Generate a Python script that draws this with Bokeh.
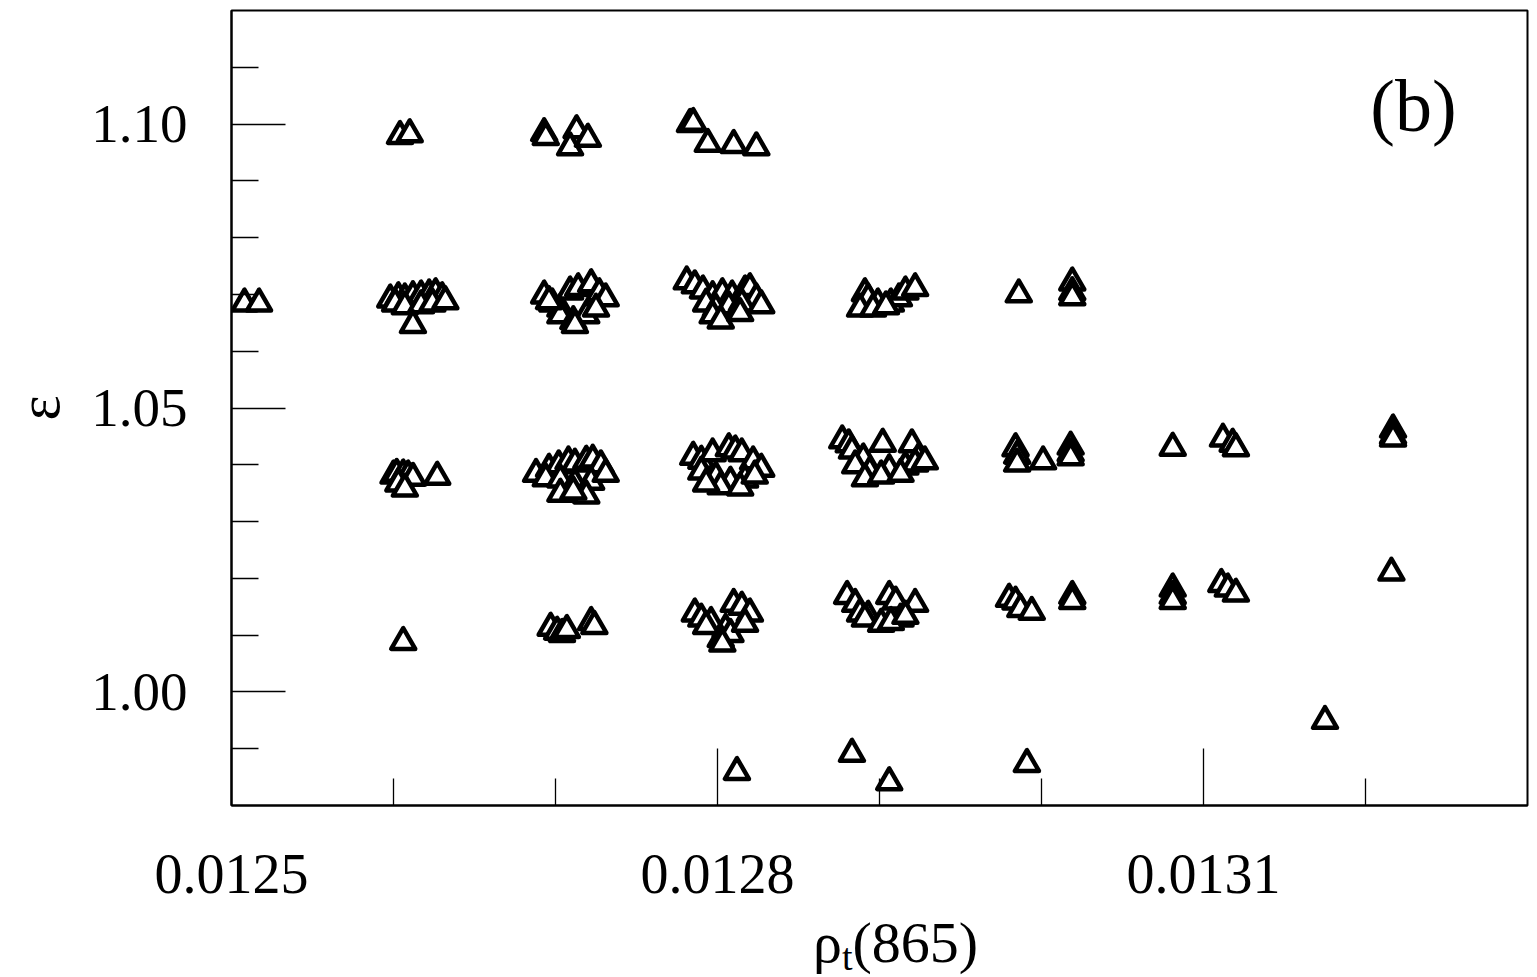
from bokeh.plotting import figure
from bokeh.models import FixedTicker, NumeralTickFormatter, Range1d, Label, ColumnDataSource, Div
from bokeh.layouts import column
from bokeh.embed import file_html
from bokeh.resources import INLINE

# rho_t(865) values and epsilon values
rho = [
    # epsilon ~ 1.10
    0.012604, 0.012610, 0.012693, 0.012694, 0.012713, 0.012709, 0.012720,
    0.012783, 0.012785, 0.012794, 0.012810, 0.012824,
    # epsilon ~ 1.07
    0.012508, 0.012517,
    0.012598, 0.012603, 0.012607, 0.012612, 0.012617, 0.012622, 0.012626, 0.012630,
    0.012601, 0.012607, 0.012617, 0.012624, 0.012632, 0.012612,
    0.012693, 0.012698, 0.012703, 0.012709, 0.012714, 0.012722, 0.012727, 0.012731,
    0.012703, 0.012711, 0.012719, 0.012725, 0.012712, 0.012696,
    0.012781, 0.012786, 0.012791, 0.012797, 0.012803, 0.012809, 0.012817, 0.012820, 0.012824,
    0.012793, 0.012799, 0.012807, 0.012815, 0.012827, 0.012797, 0.012802, 0.012814,
    0.012891, 0.012893, 0.012899, 0.012907, 0.012912, 0.012916, 0.012922,
    0.012888, 0.012896, 0.012904,
    0.012986, 0.013019, 0.013019, 0.013019,
    # epsilon ~ 1.04
    0.012600, 0.012602, 0.012606, 0.012609, 0.012612, 0.012603, 0.012607, 0.012627,
    0.012688, 0.012696, 0.012702, 0.012708, 0.012712, 0.012719, 0.012723, 0.012728,
    0.012694, 0.012703, 0.012712, 0.012722, 0.012703, 0.012719, 0.012711, 0.012731,
    0.012785, 0.012790, 0.012797, 0.012807, 0.012811, 0.012815, 0.012822, 0.012827,
    0.012790, 0.012799, 0.012808, 0.012817, 0.012802, 0.012814, 0.012793, 0.012823,
    0.012877, 0.012881, 0.012883, 0.012890, 0.012902, 0.012920, 0.012924, 0.012885,
    0.012894, 0.012906, 0.012916, 0.012922, 0.012891, 0.012901, 0.012913, 0.012928,
    0.012984, 0.012985, 0.012985, 0.013001,
    0.013018, 0.013018, 0.013018,
    0.013081,
    0.013112, 0.013118, 0.013120,
    0.013217, 0.013217, 0.013217,
    # epsilon ~ 1.015
    0.012606,
    0.012697, 0.012701, 0.012704, 0.012722, 0.012707, 0.012724,
    0.012786, 0.012790, 0.012796, 0.012810, 0.012815, 0.012820, 0.012805, 0.012802,
    0.012808, 0.012817, 0.012793, 0.012803,
    0.012880, 0.012885, 0.012888, 0.012893, 0.012906, 0.012910, 0.012922, 0.012891,
    0.012901, 0.012913, 0.012907, 0.012916,
    0.012980, 0.012984, 0.012987, 0.012994,
    0.013019, 0.013019,
    0.013081, 0.013081, 0.013081,
    0.013111, 0.013115, 0.013120,
    0.013216,
    # epsilon < 1.00
    0.012812, 0.012883, 0.012906, 0.012991, 0.013175,
]

eps = [
    # ~1.10
    1.0979, 1.0982, 1.0984, 1.0977, 1.0989, 1.0959, 1.0974,
    1.1000, 1.1002, 1.0965, 1.0963, 1.0959,
    # ~1.07
    1.0684, 1.0684,
    1.0691, 1.0695, 1.0693, 1.0697, 1.0698, 1.0700, 1.0702, 1.0695,
    1.0684, 1.0679, 1.0681, 1.0684, 1.0688, 1.0646,
    1.0698, 1.0684, 1.0675, 1.0705, 1.0711, 1.0718, 1.0702, 1.0693,
    1.0663, 1.0653, 1.0663, 1.0675, 1.0646, 1.0688,
    1.0723, 1.0716, 1.0707, 1.0697, 1.0702, 1.0698, 1.0707, 1.0711, 1.0693,
    1.0684, 1.0675, 1.0679, 1.0684, 1.0681, 1.0663, 1.0654, 1.0667,
    1.0702, 1.0693, 1.0684, 1.0684, 1.0693, 1.0705, 1.0711,
    1.0675, 1.0675, 1.0679,
    1.0700, 1.0721, 1.0704, 1.0695,
    # ~1.04
    1.0381, 1.0384, 1.0383, 1.0381, 1.0377, 1.0367, 1.0358, 1.0379,
    1.0384, 1.0393, 1.0399, 1.0406, 1.0402, 1.0407, 1.0409, 1.0399,
    1.0376, 1.0374, 1.0367, 1.0370, 1.0349, 1.0346, 1.0353, 1.0384,
    1.0414, 1.0407, 1.0420, 1.0429, 1.0425, 1.0420, 1.0406, 1.0393,
    1.0388, 1.0379, 1.0370, 1.0374, 1.0362, 1.0360, 1.0367, 1.0381,
    1.0443, 1.0436, 1.0425, 1.0411, 1.0437, 1.0436, 1.0411, 1.0399,
    1.0388, 1.0392, 1.0397, 1.0402, 1.0376, 1.0381, 1.0384, 1.0406,
    1.0429, 1.0416, 1.0402, 1.0406,
    1.0432, 1.0420, 1.0413,
    1.0430,
    1.0446, 1.0437, 1.0429,
    1.0462, 1.0451, 1.0446,
    # ~1.015
    1.0088,
    1.0113, 1.0106, 1.0102, 1.0123, 1.0109, 1.0116,
    1.0138, 1.0129, 1.0123, 1.0155, 1.0150, 1.0138, 1.0111, 1.0093,
    1.0102, 1.0120, 1.0116, 1.0085,
    1.0169, 1.0155, 1.0138, 1.0134, 1.0169, 1.0159, 1.0155, 1.0129,
    1.0120, 1.0129, 1.0123, 1.0134,
    1.0164, 1.0159, 1.0146, 1.0141,
    1.0169, 1.0160,
    1.0182, 1.0169, 1.0160,
    1.0190, 1.0182, 1.0173,
    1.0210,
    # < 1.00
    0.9859, 0.9891, 0.9841, 0.9873, 0.9949,
]

x_major = [0.0125, 0.0128, 0.0131]
x_minor = [0.0126, 0.0127, 0.0129, 0.0130, 0.0132]
y_major = [1.00, 1.05, 1.10]
y_minor = [0.99, 1.01, 1.02, 1.03, 1.04, 1.06, 1.07, 1.08, 1.09, 1.11]

FONT = "Liberation Serif"

p = figure(
    frame_width=1296, frame_height=795,
    min_border_left=231, min_border_right=10, min_border_top=10, min_border_bottom=106,
    x_range=Range1d(0.0125, 0.0133), y_range=Range1d(0.98, 1.12),
    output_backend="svg", toolbar_location=None,
)
p.grid.visible = False
p.background_fill_color = "white"
p.border_fill_color = "white"
p.outline_line_color = "black"
p.outline_line_width = 2

src = ColumnDataSource(dict(x=rho, y=eps))
p.scatter("x", "y", source=src, marker="triangle", size=24,
          line_color="black", line_width=4.5, fill_color="white", line_join="round")

xa = p.xaxis[0]
xa.ticker = FixedTicker(ticks=x_major, minor_ticks=x_minor)
xa.formatter = NumeralTickFormatter(format="0.0000")
xa.major_tick_in = 57
xa.major_tick_out = 0
xa.minor_tick_in = 27
xa.minor_tick_out = 0
xa.major_tick_line_width = 1.3
xa.minor_tick_line_width = 1.3
xa.axis_line_width = 2
xa.major_label_standoff = 49
xa.major_label_text_font = FONT
xa.major_label_text_font_size = "56px"
xa.major_label_text_color = "black"

ya = p.yaxis[0]
ya.ticker = FixedTicker(ticks=y_major, minor_ticks=y_minor)
ya.formatter = NumeralTickFormatter(format="0.00")
ya.major_tick_in = 54
ya.major_tick_out = 0
ya.minor_tick_in = 27
ya.minor_tick_out = 0
ya.major_tick_line_width = 1.3
ya.minor_tick_line_width = 1.3
ya.axis_line_width = 2
ya.major_label_standoff = 44
ya.major_label_text_font = FONT
ya.major_label_text_font_size = "55px"
ya.major_label_text_color = "black"
ya.axis_label = "ε"
ya.axis_label_standoff = 16
ya.axis_label_text_font = FONT
ya.axis_label_text_font_size = "60px"
ya.axis_label_text_font_style = "normal"
ya.axis_label_text_color = "black"

# panel tag
p.add_layout(Label(x=0.013203, y=1.1032, text="(b)", text_font=FONT,
                   text_font_size="74px", text_color="black",
                   text_align="left", text_baseline="alphabetic"))

# x-axis title rho_t(865) with subscript, as HTML text below the plot
xtitle = Div(
    text=('<div style="font-family:\'Liberation Serif\',serif;font-size:58px;'
          'line-height:54px;padding-top:0px;padding-left:808px;white-space:nowrap;'
          'color:#000000">ρ<sub style="font-size:38px;line-height:0;color:#000000;'
          'vertical-align:-8px">t</sub>(865)</div>'),
    width=1537, height=66,
)

layout = column(p, xtitle, spacing=0)
open("out.html", "w").write(file_html(layout, INLINE))
